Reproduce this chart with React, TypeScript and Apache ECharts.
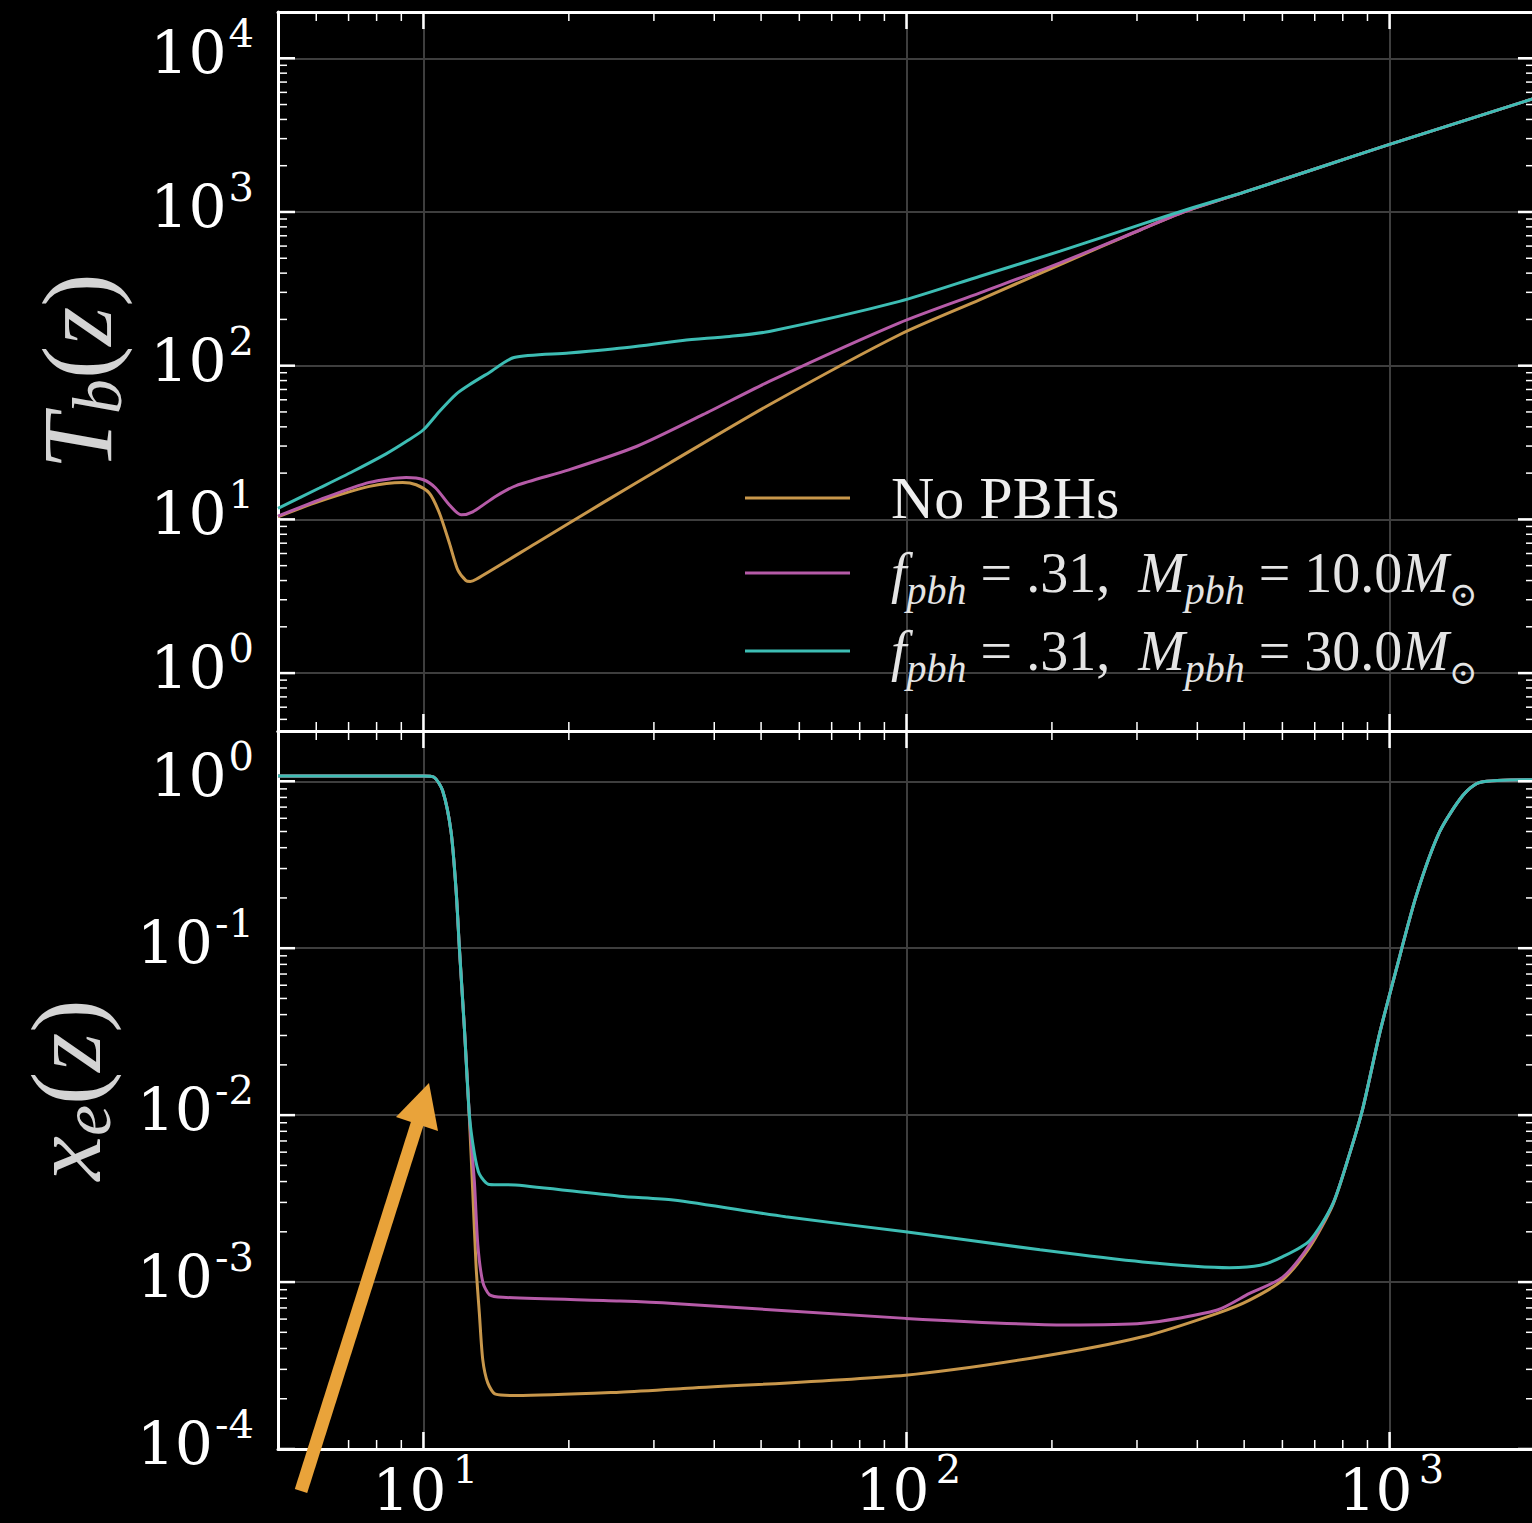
import React, { useEffect, useRef } from "react";
import * as echarts from "echarts";

// ---------- data ----------
// Top panel: baryon temperature T_b(z)
const Z_TB_NOPBH = [5, 6.09, 7.73, 9.06, 9.66, 10.29, 10.79, 11.32, 11.78, 12.25, 12.5, 12.86, 17.1, 23.5, 32.3, 52, 96.7, 142, 208, 306, 371, 500, 700, 1000, 2000];
const TB_NOPBH = [10.4, 13.1, 16.4, 17.4, 16.8, 14.8, 11.0, 7.0, 4.69, 4.0, 3.95, 4.08, 7.0, 12.8, 23.2, 55.7, 159, 269, 455, 769, 988, 1346, 1905, 2754, 5500];

const Z_TB_M10 = [5, 6.09, 7.73, 9.21, 10, 10.6, 11.32, 11.97, 12.65, 14.1, 15.56, 20, 27.6, 37.9, 52, 96.7, 142, 208, 306, 371, 500, 700, 1000, 2000];
const TB_M10 = [10.5, 13.4, 17.4, 18.7, 18.1, 16.0, 12.4, 10.7, 11.2, 14.1, 16.6, 21.0, 29.8, 48, 79, 190, 298, 467, 769, 988, 1346, 1905, 2754, 5500];

const Z_TB_M30 = [5, 6.09, 7.14, 8.37, 9.21, 10, 10.79, 11.69, 12.45, 13.7, 15.4, 20, 26.7, 34.4, 43, 52, 96.7, 142, 208, 306, 385, 500, 700, 1000, 2000];
const TB_M30 = [11.8, 16.0, 20.5, 26.7, 32.1, 38.3, 50.4, 65.4, 75.2, 90.4, 113, 121, 132, 146, 155, 167, 262, 382, 556, 830, 1050, 1346, 1905, 2754, 5500];

// Bottom panel: ionisation fraction x_e(z)
const Z_XE_NOPBH = [5, 10, 10.5, 10.96, 11.41, 11.69, 11.87, 12.16, 12.45, 12.65, 12.86, 13.06, 13.27, 13.59, 14.1, 15.56, 25.5, 34.5, 99.5, 189, 308, 440, 513, 601, 683, 763, 827, 881, 953, 1032, 1135, 1269, 1419, 1536, 2000];
const XE_NOPBH = [1.074, 1.074, 1.06, 0.877, 0.496, 0.218, 0.1, 0.0327, 0.0095, 0.0035, 0.00121, 0.00064, 0.000342, 0.000249, 0.000213, 0.000209, 0.000219, 0.00023, 0.000277, 0.000357, 0.00047, 0.00065, 0.00078, 0.00103, 0.00161, 0.0029, 0.0059, 0.0111, 0.0306, 0.0743, 0.205, 0.497, 0.824, 0.984, 1.02];

const Z_XE_M10 = [5, 10, 10.5, 10.96, 11.41, 11.69, 11.87, 12.16, 12.45, 12.75, 12.96, 13.27, 13.7, 14.6, 25.5, 32.9, 99.5, 214, 308, 440, 513, 601, 683, 763, 827, 881, 953, 1032, 1135, 1269, 1419, 1536, 2000];
const XE_M10 = [1.074, 1.074, 1.06, 0.877, 0.496, 0.218, 0.1, 0.0327, 0.0098, 0.004, 0.00167, 0.001, 0.00084, 0.00081, 0.00077, 0.000745, 0.000606, 0.000553, 0.000566, 0.00068, 0.000855, 0.00107, 0.00167, 0.00294, 0.0059, 0.0111, 0.0306, 0.0743, 0.205, 0.497, 0.824, 0.984, 1.02];

const Z_XE_M30 = [5, 10, 10.5, 10.96, 11.41, 11.69, 11.87, 12.16, 12.45, 12.75, 13.06, 13.7, 15.5, 25.5, 32.9, 56.2, 99.5, 189, 308, 466, 540, 601, 683, 763, 827, 881, 953, 1032, 1135, 1269, 1419, 1536, 2000];
const XE_M30 = [1.074, 1.074, 1.06, 0.877, 0.496, 0.218, 0.1, 0.0327, 0.01, 0.0059, 0.00443, 0.00384, 0.00381, 0.00327, 0.0031, 0.00246, 0.002, 0.00156, 0.00132, 0.00122, 0.00126, 0.00142, 0.00177, 0.00294, 0.0059, 0.0111, 0.0306, 0.0743, 0.205, 0.497, 0.824, 0.984, 1.02];

// Axis ranges and ticks
const X_MIN = 5;
const X_MAX = 2000;
const TB_MIN = 0.42;
const TB_MAX = 20000;
const XE_MIN = 1e-4;
const XE_MAX = 2;
const X_MAJOR = [10, 100, 1000];
const X_MINOR = [6, 7, 8, 9, 20, 30, 40, 50, 60, 70, 80, 90, 200, 300, 400, 500, 600, 700, 800, 900];
const TB_MAJOR = [1, 10, 100, 1000, 10000];
const TB_MINOR = [0.5, 0.6, 0.7, 0.8, 0.9, 2, 3, 4, 5, 6, 7, 8, 9, 20, 30, 40, 50, 60, 70, 80, 90, 200, 300, 400, 500, 600, 700, 800, 900, 2000, 3000, 4000, 5000, 6000, 7000, 8000, 9000];
const XE_MAJOR = [0.0001, 0.001, 0.01, 0.1, 1];
const XE_MINOR = [0.0002, 0.0003, 0.0004, 0.0005, 0.0006, 0.0007, 0.0008, 0.0009, 0.002, 0.003, 0.004, 0.005, 0.006, 0.007, 0.008, 0.009, 0.02, 0.03, 0.04, 0.05, 0.06, 0.07, 0.08, 0.09, 0.2, 0.3, 0.4, 0.5, 0.6, 0.7, 0.8, 0.9];

const NAME_NOPBH = "No PBHs";
const NAME_M10 = "f_pbh = .31, M_pbh = 10.0 M_sun";
const NAME_M30 = "f_pbh = .31, M_pbh = 30.0 M_sun";

const COLOR_NOPBH = "#c8974b";
const COLOR_M10 = "#b65ba8";
const COLOR_M30 = "#3dbdb4";
const ARROW_COLOR = "#e9a33a";

const SERIF = "'Liberation Serif', 'DejaVu Serif', serif";
const TICK_FONT = "'DejaVu Serif', serif";

const pairs = (xs: number[], ys: number[]) => xs.map((x, i) => [x, ys[i]]);

const tickData = (xMaj: number[], xMin: number[], yMaj: number[], yMin: number[], xRef: number, yRef: number) => [
  ...xMaj.map((v) => [v, yRef, 0, 1]),
  ...xMin.map((v) => [v, yRef, 0, 0]),
  ...yMaj.map((v) => [xRef, v, 1, 1]),
  ...yMin.map((v) => [xRef, v, 1, 0]),
];

function renderTick(params: any, api: any) {
  const cs = params.coordSys;
  const kind = api.value(2);
  const major = api.value(3) === 1;
  const len = major ? 17 : 9;
  const style = { stroke: "#ffffff", lineWidth: major ? 2.5 : 1.5 };
  if (kind === 0) {
    const px = api.coord([api.value(0), api.value(1)])[0];
    return {
      type: "group",
      children: [
        { type: "line", shape: { x1: px, y1: cs.y + cs.height, x2: px, y2: cs.y + cs.height - len }, style },
        { type: "line", shape: { x1: px, y1: cs.y, x2: px, y2: cs.y + len }, style },
      ],
    };
  }
  const py = api.coord([api.value(0), api.value(1)])[1];
  return {
    type: "group",
    children: [
      { type: "line", shape: { x1: cs.x, y1: py, x2: cs.x + len, y2: py }, style },
      { type: "line", shape: { x1: cs.x + cs.width, y1: py, x2: cs.x + cs.width - len, y2: py }, style },
    ],
  };
}

const expOf = (v: number) => Math.round(Math.log10(v));
// y labels: one line, superscript raised by top alignment
const yPowLabel = (v: number) => `{b|10}{e|${expOf(v)}}`;
// x labels: superscript on a (nearly) zero-height first line so the block stays compact
const xPowLabel = (v: number) => `{e|${expOf(v)}}\n{b|10}`;

const yTickRich = {
  b: { fontFamily: TICK_FONT, fontSize: 60, lineHeight: 80, color: "#ffffff", verticalAlign: "middle" },
  e: { fontFamily: TICK_FONT, fontSize: 40, color: "#ffffff", verticalAlign: "top", padding: [0, 0, 0, 2] },
};
const xTickRich = {
  b: { fontFamily: TICK_FONT, fontSize: 58, lineHeight: 40, color: "#ffffff", padding: [0, 28, 0, 0] },
  e: { fontFamily: TICK_FONT, fontSize: 40, lineHeight: 2, color: "#ffffff", padding: [0, 0, 0, 84] },
};

const nameRich = {
  i: { fontFamily: SERIF, fontStyle: "italic", fontSize: 100, lineHeight: 110, color: "#d4d4d4", verticalAlign: "middle" },
  p: { fontFamily: SERIF, fontSize: 100, lineHeight: 110, color: "#d4d4d4", verticalAlign: "middle" },
  s: { fontFamily: SERIF, fontStyle: "italic", fontSize: 70, color: "#d4d4d4", verticalAlign: "bottom" },
};

const legendRich = {
  n: { fontFamily: SERIF, fontSize: 60, lineHeight: 75, color: "#eeeeee", verticalAlign: "middle" },
  t: { fontFamily: SERIF, fontSize: 56, lineHeight: 75, color: "#e4e4e4", verticalAlign: "middle" },
  i: { fontFamily: SERIF, fontStyle: "italic", fontSize: 56, lineHeight: 75, color: "#e4e4e4", verticalAlign: "middle" },
  s: { fontFamily: SERIF, fontStyle: "italic", fontSize: 40, color: "#e4e4e4", verticalAlign: "bottom" },
  o: { fontFamily: "'DejaVu Serif', serif", fontSize: 34, color: "#e4e4e4", verticalAlign: "bottom" },
};

const LEGEND_TEXT: Record<string, string> = {
  [NAME_NOPBH]: "{n|No PBHs}",
  [NAME_M10]: "{i|f}{s|pbh}{t| = .31,  }{i|M}{s|pbh}{t| = 10.0}{i|M}{o|⊙}",
  [NAME_M30]: "{i|f}{s|pbh}{t| = .31,  }{i|M}{s|pbh}{t| = 30.0}{i|M}{o|⊙}",
};

const legendItem = (name: string, top: number) => ({
  data: [name],
  orient: "vertical",
  left: 745,
  top,
  padding: 0,
  itemWidth: 105,
  itemHeight: 3,
  icon: "rect",
  selectedMode: false,
  formatter: (n: string) => LEGEND_TEXT[n],
  textStyle: { color: "#eeeeee", padding: [0, 0, 0, 36], rich: legendRich },
});

const spine = { show: true, onZero: false, lineStyle: { color: "#ffffff", width: 3 } };
const gridLine = { show: true, lineStyle: { color: "#3e3e3e", width: 2 } };

function lineSeries(name: string, color: string, data: number[][], axisIdx: number) {
  return {
    type: "line",
    name,
    data,
    xAxisIndex: axisIdx,
    yAxisIndex: axisIdx,
    symbol: "none",
    showSymbol: false,
    smooth: 0.25,
    lineStyle: { color, width: 3 },
    itemStyle: { color },
    z: 3,
  };
}

export default function App() {
  const ref = useRef<HTMLDivElement>(null);

  useEffect(() => {
    document.body.style.background = "#000";
    const chart = echarts.init(ref.current!, undefined, { renderer: "svg" });
    const option: any = {
      animation: false,
      backgroundColor: "#000000",
      grid: [
        { left: 278, top: 12, width: 1257, height: 719, containLabel: false, outerBoundsMode: "none" },
        { left: 278, top: 731, width: 1257, height: 718, containLabel: false, outerBoundsMode: "none" },
      ],
      xAxis: [
        { type: "log", gridIndex: 0, min: X_MIN, max: X_MAX, position: "bottom", axisLine: spine, axisTick: { show: false }, axisLabel: { show: false }, splitLine: gridLine },
        { type: "log", gridIndex: 0, min: X_MIN, max: X_MAX, position: "top", axisLine: spine, axisTick: { show: false }, axisLabel: { show: false }, splitLine: { show: false } },
        {
          type: "log", gridIndex: 1, min: X_MIN, max: X_MAX, position: "bottom", axisLine: spine, axisTick: { show: false },
          axisLabel: { show: true, formatter: xPowLabel, rich: xTickRich, margin: 19, showMinLabel: false, showMaxLabel: false },
          splitLine: gridLine,
        },
        { type: "log", gridIndex: 1, min: X_MIN, max: X_MAX, position: "top", axisLine: spine, axisTick: { show: false }, axisLabel: { show: false }, splitLine: { show: false } },
      ],
      yAxis: [
        {
          type: "log", gridIndex: 0, min: TB_MIN, max: TB_MAX, position: "left", axisLine: spine, axisTick: { show: false },
          axisLabel: { show: true, formatter: yPowLabel, rich: yTickRich, margin: 24, padding: [0, 0, 10, 0], showMinLabel: false, showMaxLabel: false },
          splitLine: gridLine,
          name: "{i|T}{s|b}{p|(}{i|z}{p|)}", nameLocation: "middle", nameRotate: 90, nameGap: 146,
          nameTextStyle: { rich: nameRich },
        },
        { type: "log", gridIndex: 0, min: TB_MIN, max: TB_MAX, position: "right", axisLine: spine, axisTick: { show: false }, axisLabel: { show: false }, splitLine: { show: false } },
        {
          type: "log", gridIndex: 1, min: XE_MIN, max: XE_MAX, position: "left", axisLine: spine, axisTick: { show: false },
          axisLabel: { show: true, formatter: yPowLabel, rich: yTickRich, margin: 24, padding: [0, 0, 10, 0], showMinLabel: true, showMaxLabel: false },
          splitLine: gridLine,
          name: "{i|x}{s|e}{p|(}{i|z}{p|)}", nameLocation: "middle", nameRotate: 90, nameGap: 157,
          nameTextStyle: { rich: nameRich },
        },
        { type: "log", gridIndex: 1, min: XE_MIN, max: XE_MAX, position: "right", axisLine: spine, axisTick: { show: false }, axisLabel: { show: false }, splitLine: { show: false } },
      ],
      legend: [
        legendItem(NAME_NOPBH, 468),
        legendItem(NAME_M10, 545),
        legendItem(NAME_M30, 623),
      ],
      series: [
        lineSeries(NAME_NOPBH, COLOR_NOPBH, pairs(Z_TB_NOPBH, TB_NOPBH), 0),
        lineSeries(NAME_M10, COLOR_M10, pairs(Z_TB_M10, TB_M10), 0),
        lineSeries(NAME_M30, COLOR_M30, pairs(Z_TB_M30, TB_M30), 0),
        lineSeries(NAME_NOPBH, COLOR_NOPBH, pairs(Z_XE_NOPBH, XE_NOPBH), 2),
        lineSeries(NAME_M10, COLOR_M10, pairs(Z_XE_M10, XE_M10), 2),
        lineSeries(NAME_M30, COLOR_M30, pairs(Z_XE_M30, XE_M30), 2),
        {
          type: "custom", name: "ticksTop", xAxisIndex: 0, yAxisIndex: 0, silent: true, clip: false, z: 5,
          dimensions: ["x", "y", "kind", "major"], encode: { x: 0, y: 1 },
          data: tickData(X_MAJOR, X_MINOR, TB_MAJOR, TB_MINOR, X_MIN, TB_MIN),
          renderItem: renderTick,
        },
        {
          type: "custom", name: "ticksBottom", xAxisIndex: 2, yAxisIndex: 2, silent: true, clip: false, z: 5,
          dimensions: ["x", "y", "kind", "major"], encode: { x: 0, y: 1 },
          data: tickData(X_MAJOR, X_MINOR, XE_MAJOR, XE_MINOR, X_MIN, XE_MIN),
          renderItem: renderTick,
        },
      ],
      graphic: [
        {
          type: "line", z: 100, silent: true,
          shape: { x1: 301, y1: 1491, x2: 419, y2: 1118 },
          style: { stroke: ARROW_COLOR, lineWidth: 13, lineCap: "butt" },
        },
        {
          type: "polygon", z: 100, silent: true,
          shape: { points: [[429, 1083], [396, 1117], [438, 1131]] },
          style: { fill: ARROW_COLOR },
        },
      ],
    };
    chart.setOption(option);
    return () => chart.dispose();
  }, []);

  return (
    <div
      ref={ref}
      style={{ position: "fixed", left: 0, top: 0, width: 1540, height: 1523, background: "#000" }}
    />
  );
}
